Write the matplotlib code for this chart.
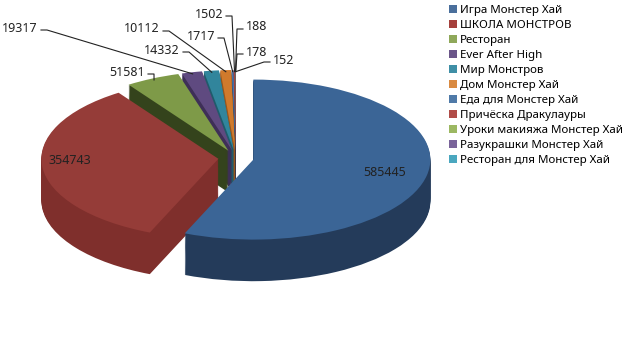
import numpy as np
import matplotlib.pyplot as plt
from matplotlib.patches import Patch

plt.rcParams['font.family'] = ['Noto Sans', 'DejaVu Sans']

games = [
    "Игра Монстер Хай",
    "ШКОЛА МОНСТРОВ",
    "Ресторан",
    "Ever After High",
    "Мир Монстров",
    "Дом Монстер Хай",
    "Еда для Монстер Хай",
    "Причёска Дракулауры",
    "Уроки макияжа Монстер Хай",
    "Разукрашки Монстер Хай",
    "Ресторан для Монстер Хай",
]
visits = [585445, 354743, 51581, 19317, 14332, 10112, 1717, 1502, 188, 178, 152]

top_colors = ["#3b6596", "#953c38", "#7e9a48", "#5f4a80", "#31859c", "#d07a2c",
              "#4a72a6", "#a8443f", "#8fad55", "#6e5a92", "#3f9bb4"]
side_colors = ["#243b5a", "#7f2f2c", "#34431c", "#3e2f57", "#205b6b", "#97561c",
               "#2e4a6e", "#7a302c", "#5e7436", "#483a60", "#296b7c"]
legend_colors = ["#4a6f9c", "#a5403c", "#8fa85a", "#6b5689", "#3f8fa6", "#d98a42",
                 "#4f7aa8", "#b04c48", "#9cb862", "#7a649a", "#4aa7bf"]

# label text anchor in pixels (x, y from top) and alignment
label_px = [(385, 172), (70, 160), (145, 72), (38, 28), (180, 50), (160, 29),
            (215, 36), (223, 14), (246, 27), (246, 52), (273, 60)]
label_ha = ["center", "center", "right", "right", "right", "right",
            "right", "right", "left", "left", "left"]

# pie geometry in pixels
cx, cy, rx, ry = 236, 158, 177, 80


def px2data(px, py):
    return (px - cx) / rx, (cy - py) / ry


fig = plt.figure(figsize=(6.4, 3.52), dpi=100)
ax = fig.add_axes([0, 0, 450 / 640, 1])

explode = [0.1] * len(visits)
depth = 0.52
n_layers = 40
for k in range(n_layers, 0, -1):
    ax.pie(visits, explode=explode, colors=side_colors, startangle=90,
           counterclock=False, center=(0, -depth * k / n_layers),
           wedgeprops=dict(linewidth=0))
wedges, _ = ax.pie(visits, explode=explode, colors=top_colors, startangle=90,
                   counterclock=False, center=(0, 0),
                   wedgeprops=dict(linewidth=0))

ax.set_aspect('auto')
ax.set_xlim(px2data(0, 0)[0], px2data(450, 0)[0])
ax.set_ylim(px2data(0, 352)[1], px2data(0, 0)[1])
ax.axis('off')

for i, w in enumerate(wedges):
    tx, ty = px2data(*label_px[i])
    ax.text(tx, ty, str(visits[i]), ha=label_ha[i], va='center',
            fontsize=9, color='#222222')
    if label_ha[i] == "center":
        continue
    mid = np.deg2rad((w.theta1 + w.theta2) / 2)
    ex = w.center[0] + 0.98 * np.cos(mid)
    ey = w.center[1] + 0.98 * np.sin(mid)
    sign = 1 if label_ha[i] == "right" else -1
    x0 = tx + sign * 3 / rx
    x1 = x0 + sign * 6 / rx
    ax.plot([x0, x1, ex], [ty - 2 / ry, ty - 2 / ry, ey], color='#222222', lw=0.8)

handles = [Patch(facecolor=c, edgecolor='none') for c in legend_colors]
fig.legend(handles, games, loc='upper left', bbox_to_anchor=(444 / 640, 1.0),
           frameon=False, fontsize=8.3, handlelength=0.7, handleheight=0.7,
           handletextpad=0.3, labelspacing=0.34, borderaxespad=0)

fig.savefig("out.png", dpi=100)
